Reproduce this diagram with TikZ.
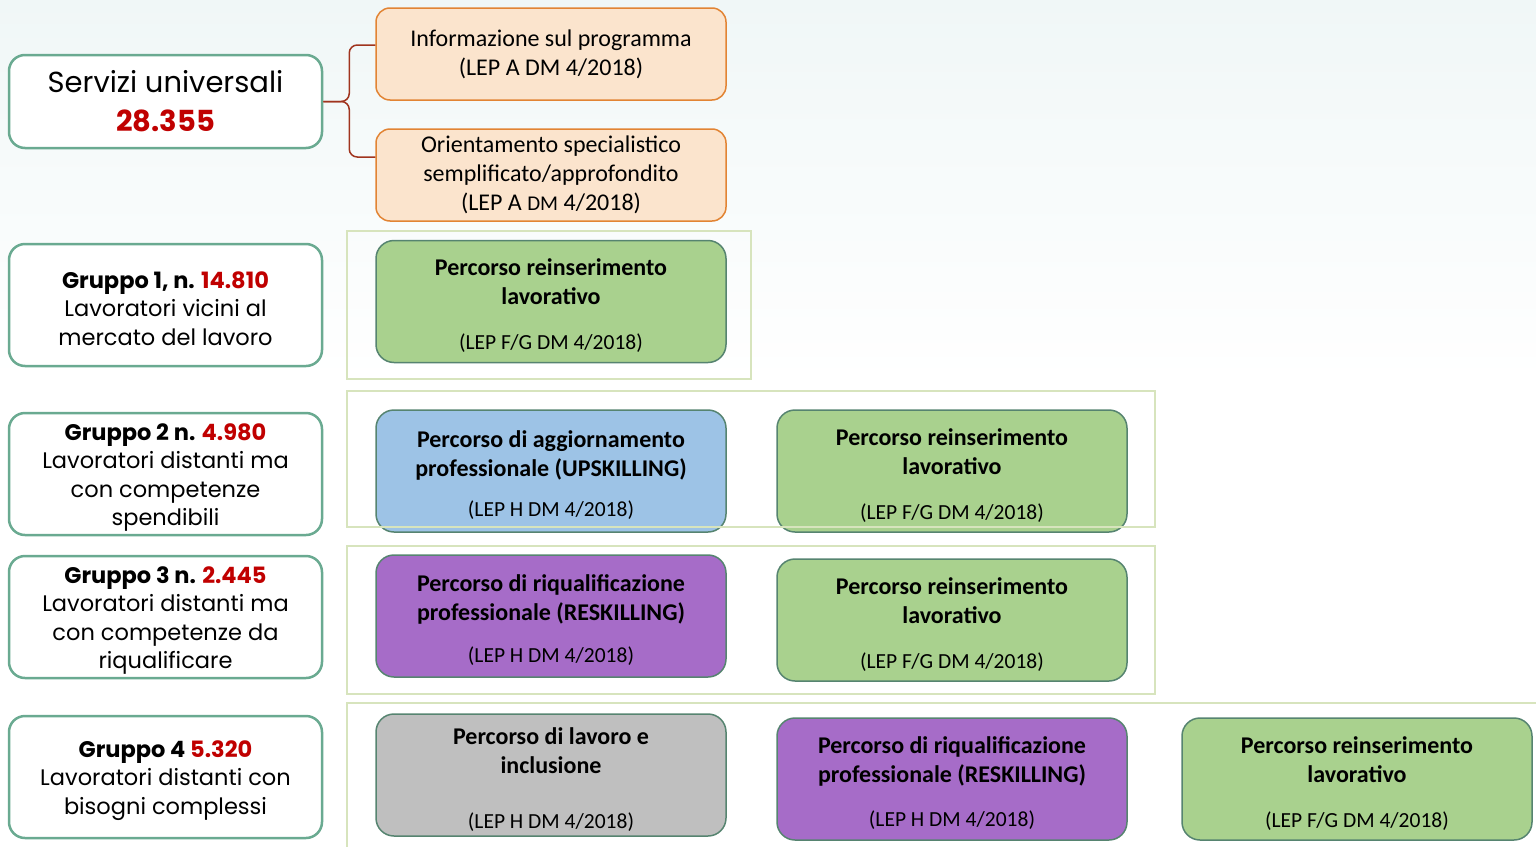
\documentclass[tikz,border=0pt]{standalone}
\usepackage{fontspec}
\setmainfont{Carlito}
\newfontfamily\gothic{Poppins}
\newcommand\leptxt{\fontsize{21.5}{29}\selectfont}
\newcommand\tpb{\rule{0pt}{25pt}}
\newcommand\tpg{\rule{0pt}{24pt}}
\definecolor{tealb}{RGB}{106,170,145}
\definecolor{orfill}{RGB}{251,228,205}
\definecolor{orbdr}{RGB}{226,132,52}
\definecolor{grfill}{RGB}{169,209,142}
\definecolor{bxbdr}{RGB}{86,132,112}
\definecolor{blfill}{RGB}{157,195,230}
\definecolor{pufill}{RGB}{166,108,200}
\definecolor{gyfill}{RGB}{191,191,191}
\definecolor{frame}{RGB}{215,228,189}
\definecolor{numred}{RGB}{192,0,0}
\definecolor{brace}{RGB}{160,52,30}
\definecolor{bgtint}{RGB}{240,247,247}
\begin{document}
\begin{tikzpicture}[x=1pt,y=-1pt,
  grp/.style={draw=tealb, line width=2.5pt, fill=white, rounded corners=16pt,
    minimum width=313pt, minimum height=122pt, align=center, inner sep=0pt,
    font=\gothic\fontsize{22.5}{28.5}\selectfont},
  box/.style={draw=bxbdr, line width=1.5pt, rounded corners=18pt,
    minimum width=350pt, minimum height=122pt, align=center, inner sep=0pt,
    font=\fontsize{24}{29}\selectfont},
  obox/.style={draw=orbdr, fill=orfill, line width=1.5pt, rounded corners=14pt,
    minimum width=350pt, minimum height=92pt, align=center, inner sep=0pt,
    font=\fontsize{24}{29}\selectfont},
  frm/.style={draw=frame, line width=1.5pt},
  brc/.style={draw=brace, line width=1.5pt, rounded corners=8pt}
]
\useasboundingbox (0,0) rectangle (1536,846);
\shade[top color=bgtint, bottom color=white] (0,0) rectangle (1536,380);

% left column
\node[grp, minimum height=93pt, font=\gothic\fontsize{29}{39}\selectfont] (serv) at (165.5,101.5)
  {Servizi universali\\\textcolor{numred}{\bfseries 28.355}};
\node[grp] (g1) at (165.5,305) {\tpg\textbf{Gruppo 1, n. \textcolor{numred}{14.810}}\\Lavoratori vicini al\\mercato del lavoro};
\node[grp] (g2) at (165.5,474) {\tpg\textbf{Gruppo 2 n. \textcolor{numred}{4.980}}\\Lavoratori distanti ma\\con competenze\\spendibili};
\node[grp] (g3) at (165.5,617) {\tpg\textbf{Gruppo 3 n. \textcolor{numred}{2.445}}\\Lavoratori distanti ma\\con competenze da\\riqualificare};
\node[grp] (g4) at (165.5,777) {\tpg\textbf{Gruppo 4 \textcolor{numred}{5.320}}\\Lavoratori distanti con\\bisogni complessi};

% universal services
\node[obox] (o1) at (551,54) {Informazione sul programma\\(LEP A DM 4/2018)};
\node[obox] (o2) at (551,175) {Orientamento specialistico\\semplificato/approfondito\\(LEP A {\fontsize{21}{29}\selectfont DM} 4/2018)};
\draw[brc] (serv.east) -- ++(26,0) |- ([yshift=9pt]o1.west);
\draw[brc] (serv.east) -- ++(26,0) |- ([yshift=18pt]o2.west);

% group 1
\node[box, fill=grfill] (p1) at (551,301.5) {\tpb\textbf{Percorso reinserimento}\\\textbf{lavorativo}\\[16pt]{\leptxt (LEP F/G DM 4/2018)}};
% group 2
\node[box, fill=blfill] (p2a) at (551,471) {\tpb\textbf{Percorso di aggiornamento}\\\textbf{professionale (UPSKILLING)}\\[11pt]{\leptxt (LEP H DM 4/2018)}};
\node[box, fill=grfill] (p2b) at (952,471) {\tpb\textbf{Percorso reinserimento}\\\textbf{lavorativo}\\[16pt]{\leptxt (LEP F/G DM 4/2018)}};
% group 3
\node[box, fill=pufill] (p3a) at (551,616) {\tpb\textbf{Percorso di riqualificazione}\\\textbf{professionale (RESKILLING)}\\[13pt]{\leptxt (LEP H DM 4/2018)}};
\node[box, fill=grfill] (p3b) at (952,620) {\tpb\textbf{Percorso reinserimento}\\\textbf{lavorativo}\\[16pt]{\leptxt (LEP F/G DM 4/2018)}};
% group 4
\node[box, fill=gyfill] (p4a) at (551,775) {\tpb\textbf{Percorso di lavoro e}\\\textbf{inclusione}\\[26pt]{\leptxt (LEP H DM 4/2018)}};
\node[box, fill=pufill] (p4b) at (952,779) {\tpb\textbf{Percorso di riqualificazione}\\\textbf{professionale (RESKILLING)}\\[15pt]{\leptxt (LEP H DM 4/2018)}};
\node[box, fill=grfill] (p4c) at (1357,779) {\tpb\textbf{Percorso reinserimento}\\\textbf{lavorativo}\\[16pt]{\leptxt (LEP F/G DM 4/2018)}};

% frames
\draw[frm] (347,231) rectangle (751,379);
\draw[frm] (347,391) rectangle (1155,527);
\draw[frm] (347,546) rectangle (1155,694);
\draw[frm] (1540,703) -- (347,703) -- (347,850);
\end{tikzpicture}
\end{document}
